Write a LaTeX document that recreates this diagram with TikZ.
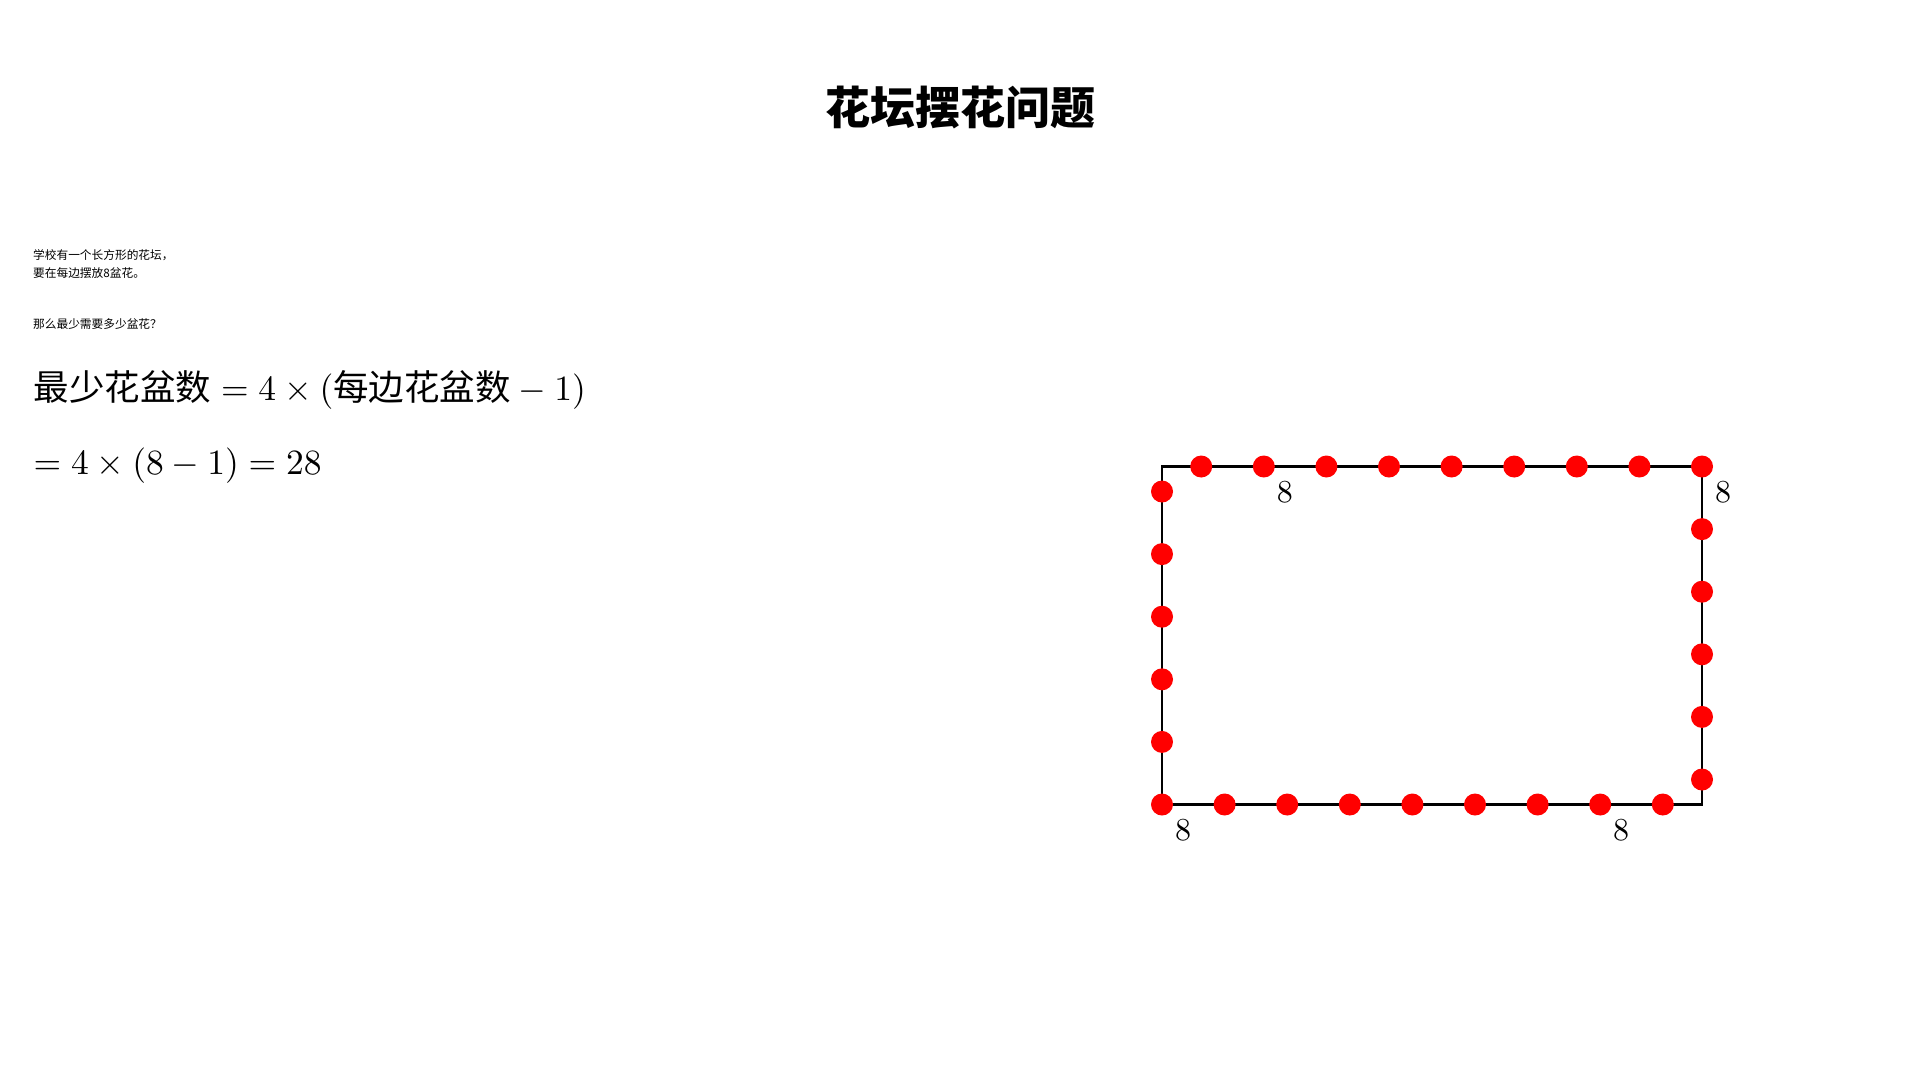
\RequirePackage{fix-cm}
\documentclass[tikz,border=0pt]{standalone}
\usepackage{amsmath}
\usepackage{fontspec}
\newfontfamily\cjk{Noto Sans CJK SC}
\tikzset{
  dot/.style={circle,fill=red,draw=none,minimum size=22pt,inner sep=0pt},
  lbl/.style={font=\fontsize{10}{12}\selectfont,inner sep=0pt,scale=3.2,transform shape},
  small/.style={font=\cjk\fontsize{11.7}{14}\selectfont,anchor=west,inner sep=0pt},
  formula/.style={font=\fontsize{10}{12}\selectfont,anchor=west,inner sep=0pt,scale=3.55,transform shape},
}
\begin{document}
\begin{tikzpicture}[x=1pt,y=-1pt]
\useasboundingbox[fill=white] (0,0) rectangle (1920,1080);
\node[font=\cjk\bfseries\fontsize{45}{54}\selectfont,inner sep=0pt] (title) at (960,108) {花坛摆花问题};
\node[small] (q1) at (33,255) {学校有一个长方形的花坛，};
\node[small] (q2) at (33,273) {要在每边摆放8盆花。};
\node[small] (q3) at (33,324.5) {那么最少需要多少盆花？};
\node[formula] (f1) at (33,390) {$\text{\cjk 最少花盆数}=4\times(\text{\cjk 每边花盆数}-1)$};
\node[formula] (f2) at (33,466) {$=4\times(8-1)=28$};
% rectangle corners
\coordinate (BL) at (1162,804.5);
\coordinate (TR) at (1702,466.5);
\coordinate (TL) at (1162,466.5);
\coordinate (BR) at (1702,804.5);
\draw[line width=2.5pt] (TL) -- (TR) -- (BR) -- (BL) -- cycle;
% dots
\foreach \k in {0,...,8} {
  \node[dot] (b\k) at (1162+62.6*\k,804.5) {};
  \node[dot] (t\k) at (1702-62.6*\k,466.5) {};
}
\foreach \k in {1,...,5} {
  \node[dot] (l\k) at (1162,804.5-62.6*\k) {};
  \node[dot] (r\k) at (1702,466.5+62.6*\k) {};
}
\node[lbl] (n1) at ([shift={(21,26)}]t7.center) {$8$};
\node[lbl] (n2) at ([shift={(21,26)}]t0.center) {$8$};
\node[lbl] (n3) at ([shift={(21,26)}]b0.center) {$8$};
\node[lbl] (n4) at ([shift={(21,26)}]b7.center) {$8$};
\end{tikzpicture}
\end{document}
